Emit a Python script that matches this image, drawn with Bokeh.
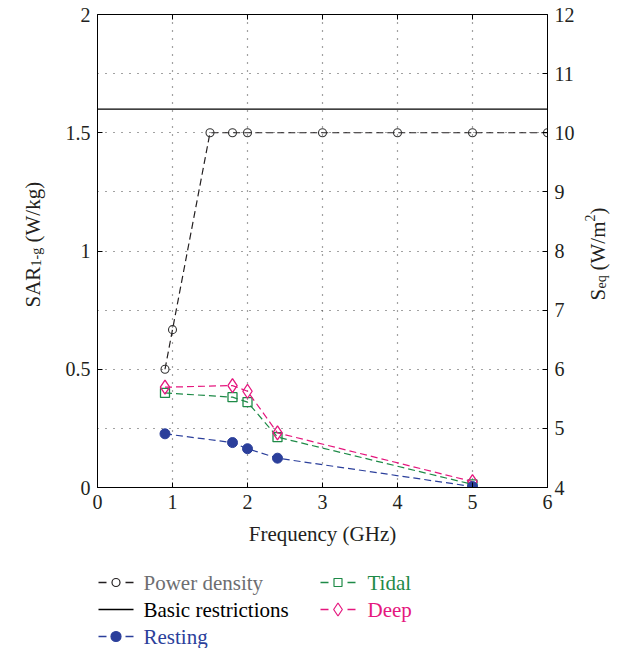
import math
from bokeh.plotting import figure
from bokeh.models import Range1d, LinearAxis, FixedTicker, NumeralTickFormatter, Grid
from bokeh.layouts import column, row
from bokeh.embed import file_html
from bokeh.resources import INLINE
from bokeh.core.properties import value

# ---------------- data ----------------
pd_freq = [0.9, 1.0, 1.5, 1.8, 2.0, 3.0, 4.0, 5.0, 6.0]
pd_seq = [6.0, 6.67, 10.0, 10.0, 10.0, 10.0, 10.0, 10.0, 10.0]

br_freq = [0.0, 6.0]
br_sar = [1.6, 1.6]

freq = [0.9, 1.8, 2.0, 2.4, 5.0]
resting = [0.227, 0.190, 0.164, 0.124, 0.004]
tidal = [0.400, 0.382, 0.361, 0.213, 0.013]
deep = [0.424, 0.431, 0.407, 0.231, 0.025]

x_ticks = [0, 1, 2, 3, 4, 5, 6]
sar_ticks = [0, 0.5, 1, 1.5, 2]
seq_ticks = [4, 5, 6, 7, 8, 9, 10, 11, 12]
grid_y = [0.25, 0.5, 0.75, 1.0, 1.25, 1.5, 1.75]
grid_x = [1, 2, 3, 4, 5]

legend_names = ["Power density", "Basic restrictions", "Resting", "Tidal", "Deep"]

# ---------------- style ----------------
FONT = "Liberation Serif"
TXT = "#231F20"
C_PD = "#231F20"
C_PD_TXT = "#6D6E71"
C_REST = "#2B3F9B"
C_TIDAL = "#1E8A47"
C_DEEP = "#E5177E"
DASH = "7 4"

TOTAL_W = 621
LEFT_W = 50
RIGHT_W = 41
MAIN_W = TOTAL_W - LEFT_W - RIGHT_W   # 530
H_MAIN = 560
H_LEG = 88
F_TOP = 14          # frame top (page px)
F_BOT = 487         # frame bottom (page px)
F_LEFT = 97         # frame left (page px)
F_RIGHT = 547       # frame right (page px)

p = figure(width=MAIN_W, height=H_MAIN, output_backend="svg", toolbar_location=None,
           x_range=Range1d(0, 6), y_range=Range1d(0, 2),
           min_border_left=F_LEFT - LEFT_W, min_border_right=LEFT_W + MAIN_W - F_RIGHT,
           min_border_top=F_TOP, min_border_bottom=H_MAIN - F_BOT,
           x_axis_location=None, y_axis_location=None)
p.extra_y_ranges = {"seq": Range1d(4, 12)}
p.outline_line_color = "black"
p.outline_line_width = 1

def style_axis(ax, ticks):
    ax.ticker = FixedTicker(ticks=ticks)
    ax.major_tick_in = 5
    ax.major_tick_out = 0
    ax.minor_tick_line_color = None
    ax.axis_line_color = "black"
    ax.major_tick_line_color = "black"
    ax.major_label_text_font = FONT
    ax.major_label_text_color = TXT
    ax.major_label_text_font_size = "20px"
    ax.major_label_standoff = 7

xb = LinearAxis()
style_axis(xb, x_ticks)
xb.axis_label = "Frequency (GHz)"
xb.axis_label_text_font = FONT
xb.axis_label_text_font_size = "21px"
xb.axis_label_text_font_style = "normal"
xb.axis_label_text_color = TXT
xb.axis_label_standoff = 10
p.add_layout(xb, "below")

yl = LinearAxis(formatter=NumeralTickFormatter(format="0.[0]"))
style_axis(yl, sar_ticks)
p.add_layout(yl, "left")

yr = LinearAxis(y_range_name="seq")
style_axis(yr, seq_ticks)
p.add_layout(yr, "right")

p.xgrid.visible = False
p.ygrid.visible = False
p.add_layout(Grid(dimension=0, ticker=FixedTicker(ticks=grid_x), grid_line_color="#444444",
                  grid_line_dash="1 7", grid_line_width=1.2))
p.add_layout(Grid(dimension=1, ticker=FixedTicker(ticks=grid_y), grid_line_color="#444444",
                  grid_line_dash="1 7", grid_line_width=1.2))

# inward tick marks on the top edge
p.scatter(grid_x, [sar_ticks[-1]] * len(grid_x), marker="dash", angle=math.pi / 2,
          size=10, line_color="black", line_width=1)

# basic restrictions
p.line(br_freq, br_sar, line_color="black", line_width=1.3)

# power density (right axis)
p.line(pd_freq, pd_seq, y_range_name="seq", line_color=C_PD, line_dash=DASH, line_width=1.2)
p.scatter(pd_freq, pd_seq, y_range_name="seq", marker="circle", size=8,
          fill_color=None, line_color="#333333", line_width=1.1)

# series
p.line(freq, tidal, line_color=C_TIDAL, line_dash=DASH, line_width=1.2)
p.scatter(freq, tidal, marker="square", size=9, fill_color=None, line_color=C_TIDAL, line_width=1.3)
p.line(freq, deep, line_color=C_DEEP, line_dash=DASH, line_width=1.2)
p.scatter(freq, deep, marker="diamond", size=14, fill_color=None, line_color=C_DEEP, line_width=1.3)
p.line(freq, resting, line_color=C_REST, line_dash=DASH, line_width=1.2)
p.scatter(freq, resting, marker="circle", size=10, fill_color=C_REST, line_color=C_REST)

# ---------------- side strips for the rotated axis titles ----------------
def strip(width, x0):
    f = figure(width=width, height=H_MAIN, output_backend="svg", toolbar_location=None,
               x_range=Range1d(x0, x0 + width), y_range=Range1d(F_BOT, F_TOP),
               min_border_left=0, min_border_right=0,
               min_border_top=F_TOP, min_border_bottom=H_MAIN - F_BOT,
               x_axis_location=None, y_axis_location=None)
    f.outline_line_color = None
    f.xgrid.visible = False
    f.ygrid.visible = False
    return f

A = math.pi / 2
def vtext(f, txt, x, y, size):
    f.text([x], [y], text=[txt], angle=A, text_font=value(FONT), text_font_size=size,
           text_color=TXT, text_align="left", text_baseline="alphabetic")

left = strip(LEFT_W, 0)
# SAR_1-g (W/kg), read bottom to top, centred on the frame
vtext(left, "SAR", 32, 307, "21px")
vtext(left, "1-g", 36, 266, "14px")
vtext(left, "(W/kg)", 32, 242, "21px")

right = strip(RIGHT_W, LEFT_W + MAIN_W)
# S_eq (W/m^2)
vtext(right, "S", 597, 300, "21px")
vtext(right, "eq", 601, 288, "14px")
vtext(right, "(W/m", 597, 270, "21px")
vtext(right, "2", 589, 221, "14px")
vtext(right, ")", 597, 214, "21px")

# ---------------- legend strip ----------------
lg = figure(width=TOTAL_W, height=H_LEG, output_backend="svg", toolbar_location=None,
            x_range=Range1d(F_LEFT, F_RIGHT), y_range=Range1d(H_MAIN + H_LEG, H_MAIN),
            min_border_left=F_LEFT, min_border_right=TOTAL_W - F_RIGHT,
            min_border_top=0, min_border_bottom=0,
            x_axis_location=None, y_axis_location=None)
lg.outline_line_color = None
lg.xgrid.visible = False
lg.ygrid.visible = False

rows = [582, 609, 636]
c1 = (98, 133, 115.5, 143)
c2 = (320, 355, 337.5, 367)

def leg_item(col, r, color, txtcolor, name, marker=None, msize=8, mfill=None, solid=False):
    x0, x1, xm, xt_ = col
    y = rows[r]
    if solid:
        lg.line([x0, x1], [y, y], line_color=color, line_width=1.3)
    else:
        lg.line([x0, x1], [y, y], line_color=color, line_width=1.3, line_dash="8 19")
    if marker:
        lg.scatter([xm], [y], marker=marker, size=msize, fill_color=mfill,
                   line_color=color, line_width=1.2)
    lg.text([xt_], [y], text=[name], text_font=value(FONT), text_font_size="21px",
            text_color=txtcolor, text_baseline="middle", text_align="left")

leg_item(c1, 0, C_PD, C_PD_TXT, legend_names[0], "circle", 8, None)
leg_item(c1, 1, "black", "black", legend_names[1], solid=True)
leg_item(c1, 2, C_REST, C_REST, legend_names[2], "circle", 10, C_REST)
leg_item(c2, 0, C_TIDAL, C_TIDAL, legend_names[3], "square", 8, None)
leg_item(c2, 1, C_DEEP, C_DEEP, legend_names[4], "diamond", 13, None)

layout = column(row(left, p, right, spacing=0), lg, spacing=0)
open("out.html", "w").write(file_html(layout, INLINE))
